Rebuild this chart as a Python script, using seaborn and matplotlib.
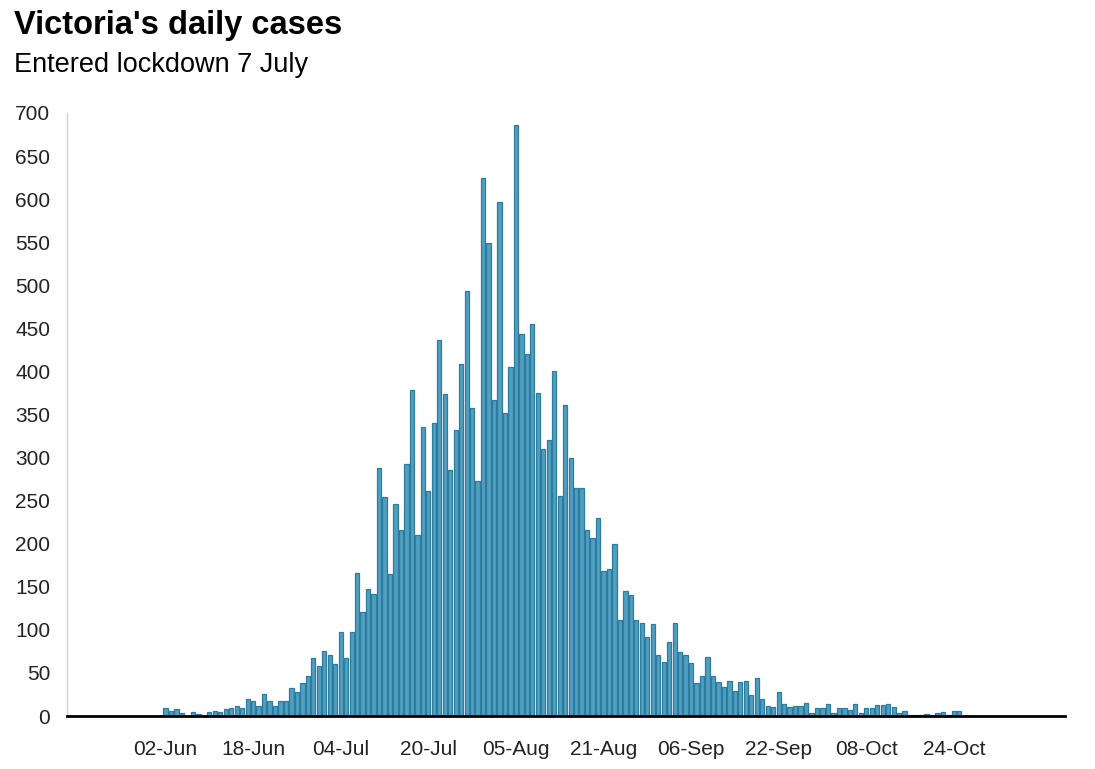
import numpy as np
import pandas as pd
import matplotlib
matplotlib.use('Agg')
import matplotlib.pyplot as plt
import seaborn as sns

# Daily new cases in Victoria, one value per day from 02-Jun-2020
start_date = '2020-06-02'
daily_cases = [
    9, 6, 8, 3, 0, 5, 2, 0, 5, 6,                 # 02-Jun .. 11-Jun
    5, 8, 9, 12, 9, 20, 17, 12, 25, 17,           # 12-Jun .. 21-Jun
    12, 17, 17, 33, 28, 38, 46, 67, 58, 75,       # 22-Jun .. 01-Jul
    71, 60, 98, 67, 97, 166, 121, 147, 142, 288,  # 02-Jul .. 11-Jul
    254, 165, 246, 216, 293, 378, 210, 335, 261, 340,  # 12-Jul .. 21-Jul
    436, 374, 286, 332, 409, 493, 357, 273, 625, 549,  # 22-Jul .. 31-Jul
    367, 597, 352, 405, 686, 444, 420, 455, 375, 310,  # 01-Aug .. 10-Aug
    320, 400, 255, 361, 300, 265, 265, 216, 207, 230,  # 11-Aug .. 20-Aug
    168, 171, 200, 112, 145, 140, 112, 108, 92, 107,   # 21-Aug .. 30-Aug
    71, 63, 86, 108, 74, 71, 61, 38, 47, 69,      # 31-Aug .. 09-Sep
    47, 39, 34, 41, 29, 39, 41, 24, 44, 20,       # 10-Sep .. 19-Sep
    12, 10, 28, 14, 10, 12, 12, 15, 4, 9,         # 20-Sep .. 29-Sep
    9, 14, 4, 9, 9, 7, 14, 4, 9, 9,               # 30-Sep .. 09-Oct
    13, 13, 14, 11, 4, 6, 1, 1, 1, 2,             # 10-Oct .. 19-Oct
    1, 3, 5, 1, 6, 6,                             # 20-Oct .. 25-Oct
]
tick_labels = ['02-Jun', '18-Jun', '04-Jul', '20-Jul', '05-Aug',
               '21-Aug', '06-Sep', '22-Sep', '08-Oct', '24-Oct']
axis_start = '2020-05-15'
axis_end = '2020-11-13'

title = "Victoria's daily cases"
subtitle = 'Entered lockdown 7 July'

dates = pd.date_range(start_date, periods=len(daily_cases), freq='D')
df = pd.DataFrame({'date': dates, 'cases': daily_cases})
df['day'] = (df['date'] - dates[0]).dt.days

tick_dates = pd.to_datetime([t + '-2020' for t in tick_labels], format='%d-%b-%Y')
tick_days = (tick_dates - dates[0]).days
x_left = (pd.Timestamp(axis_start) - dates[0]).days
x_right = (pd.Timestamp(axis_end) - dates[0]).days + 0.3

sns.set_style('white')
plt.rcParams['font.family'] = ['Liberation Sans', 'DejaVu Sans']

fig = plt.figure(figsize=(10.95, 7.69), dpi=100)
ax = fig.add_axes([67 / 1095, 1 - 716 / 769, (1065 - 67) / 1095, (716 - 113) / 769])

sns.barplot(data=df, x='day', y='cases', native_scale=True, width=0.78,
            color='#519fbf', saturation=1, edgecolor='#2c7ca0', linewidth=0.9,
            errorbar=None, ax=ax)

ax.set_xlim(x_left, x_right)
ax.set_ylim(0, 700)
ax.set_yticks(np.arange(0, 701, 50))
ax.set_xticks(tick_days)
ax.set_xticklabels(tick_labels)
ax.tick_params(axis='both', length=0, labelsize=15, labelcolor='#222222')
ax.tick_params(axis='x', pad=17)
ax.tick_params(axis='y', pad=12)
ax.set_xlabel('')
ax.set_ylabel('')

for side in ['top', 'right']:
    ax.spines[side].set_visible(False)
ax.spines['left'].set_color('#d0d0d0')
ax.spines['left'].set_linewidth(1)
ax.spines['bottom'].set_color('black')
ax.spines['bottom'].set_linewidth(2)
ax.spines['bottom'].set_zorder(5)

fig.text(14 / 1095, 1 - 10 / 769, title, fontsize=23.5, fontweight='bold',
         ha='left', va='top', color='black')
fig.text(14 / 1095, 1 - 52 / 769, subtitle, fontsize=19.5,
         ha='left', va='top', color='black')

fig.savefig('out.png', dpi=100)
